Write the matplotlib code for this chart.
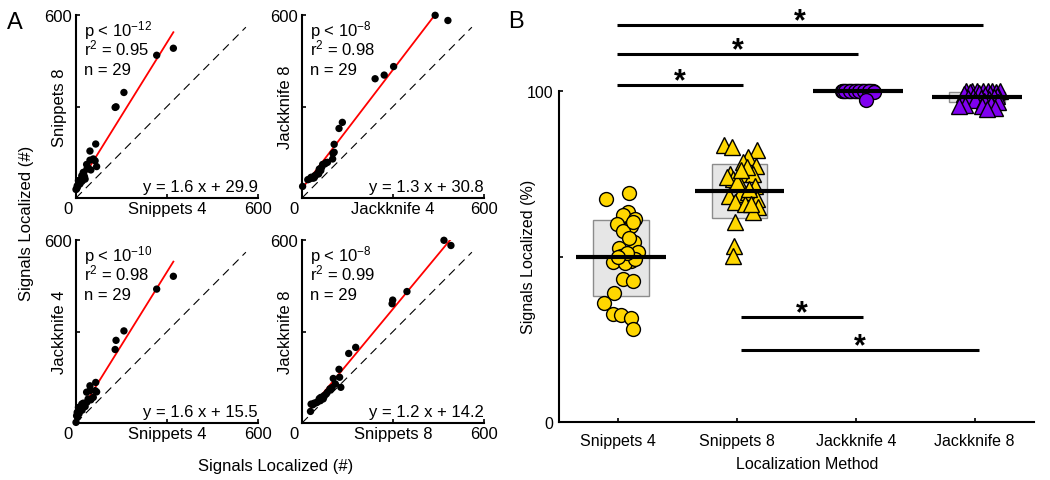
import matplotlib
matplotlib.use('Agg')
import matplotlib.pyplot as plt
import numpy as np

plt.rcParams['font.family'] = ['Liberation Sans', 'DejaVu Sans']
plt.rcParams['mathtext.fontset'] = 'custom'
plt.rcParams['mathtext.rm'] = 'Liberation Sans'
plt.rcParams['mathtext.it'] = 'Liberation Sans:italic'
plt.rcParams['mathtext.bf'] = 'Liberation Sans:bold'
plt.rcParams['lines.scale_dashes'] = False

# ---------------- data: panel A (signals localized, #) ----------------
snippets4 = [321, 266, 158, 132, 129, 65, 46, 63, 46, 68, 35, 40, 49, 24, 19,
             30, 8, 13, 4, 0, 2, 25, 15, 36, 10, 5, 28, 20, 57]
snippets8 = [491, 468, 346, 299, 297, 177, 154, 122, 124, 103, 110, 99, 92, 84, 73,
             62, 57, 46, 40, 28, 30, 80, 60, 95, 50, 36, 70, 55, 128]
jackknife4 = [481, 439, 302, 271, 241, 133, 122, 106, 106, 102, 101, 79, 76, 65, 62,
              54, 51, 40, 35, 2, 24, 57, 44, 68, 30, 19, 55, 42, 84]
jackknife8 = [582, 599, 431, 403, 391, 248, 228, 176, 150, 146, 128, 116, 112, 101, 90,
              84, 80, 66, 65, 38, 62, 95, 73, 110, 68, 60, 79, 73, 117]

scatter_x_names = ['Snippets 4', 'Jackknife 4', 'Snippets 4', 'Snippets 8']
scatter_y_names = ['Snippets 8', 'Jackknife 8', 'Jackknife 4', 'Jackknife 8']
fit_slopes = [1.6, 1.3, 1.6, 1.2]
fit_intercepts = [29.9, 30.8, 15.5, 14.2]
p_exponents = [-12, -8, -10, -8]
r_squared = [0.95, 0.98, 0.98, 0.99]
n_samples = [29, 29, 29, 29]

# ---------------- data: panel B (signals localized, %) ----------------
methods = ['Snippets 4', 'Snippets 8', 'Jackknife 4', 'Jackknife 8']
pct_s4 = [67.5, 69.1, 63.4, 62.4, 61.4, 59.9, 59.2, 57.7, 54.4, 52.7, 51.4, 49.2, 48.3, 48.6, 50.2,
          48.1, 43.3, 42.6, 39.1, 35.9, 32.5, 32.2, 31.5, 28.0, 49.2, 51.0, 49.8, 55.5, 60.5]
jit_s4 = [-0.103, 0.092, 0.082, 0.036, 0.143, -0.011, 0.107, 0.039, 0.134, 0.003, 0.162, 0.101, -0.045,
          0.109, 0.025, 0.059, 0.036, 0.120, -0.039, -0.118, -0.048, 0.025, 0.109, 0.120, 0.143, 0.07,
          0.0, 0.09, 0.12]
pct_s8 = [83.8, 83.0, 82.2, 80.2, 78.5, 77.4, 74.9, 74.9, 74.9, 73.4, 71.9, 71.4, 68.4, 68.9, 69.4,
          67.4, 66.4, 65.9, 64.9, 63.4, 60.3, 53.3, 50.2, 73.9, 76.9, 70.5, 72.5, 66.0, 76.0]
jit_s8 = [-0.107, -0.039, 0.166, 0.095, 0.053, 0.160, -0.059, 0.053, 0.137, -0.031, 0.025, 0.151, -0.065,
          0.025, 0.095, 0.166, -0.017, 0.067, 0.179, 0.137, -0.017, -0.025, -0.036, -0.087, 0.082, 0.10,
          0.0, 0.12, 0.03]
pct_j4 = [100, 100, 100, 100, 100, 100, 100, 100, 100, 100, 100, 100, 100, 100, 100,
          100, 100, 100, 100, 100, 100, 100, 100, 100, 100, 100, 100, 99.6, 97.3]
jit_j4 = [-0.12, -0.10, -0.08, -0.06, -0.04, -0.02, 0.0, 0.02, 0.04, 0.06, 0.08, 0.10, 0.12, 0.14,
          -0.11, -0.07, -0.03, 0.01, 0.05, 0.09, 0.13, -0.09, -0.05, -0.01, 0.03, 0.07, 0.11, 0.15, 0.084]
pct_j8 = [100, 100, 100, 100, 100, 100, 100, 99.6, 99.6, 99.5, 99.2, 99.0, 98.8, 98.5, 98.2,
          98.2, 98.0, 97.8, 97.5, 97.2, 97.0, 96.8, 96.5, 96.0, 95.8, 95.6, 95.5, 95.0, 94.6]
jit_j8 = [-0.07, -0.02, 0.07, 0.15, 0.21, 0.02, 0.11, -0.04, 0.18, 0.04, 0.13, -0.09, 0.09, 0.19, -0.01,
          0.16, 0.05, -0.06, 0.12, 0.0, 0.08, 0.20, -0.11, 0.14, -0.08, 0.06, -0.13, 0.17, 0.10]
box_q1 = [38.1, 61.6, 100.0, 96.7]
box_q3 = [61.0, 78.0, 100.0, 99.7]
medians = [49.8, 69.8, 100.0, 98.2]
sig_x0 = [0.99, 0.99, 0.99, 2.03, 2.03]
sig_x1 = [4.07, 3.02, 2.05, 3.06, 4.04]
sig_y = [120.0, 111.2, 101.8, 31.7, 21.8]

W, H = 1050, 481
fig = plt.figure(figsize=(W / 100, H / 100), dpi=100)


def px_axes(x0, y0, x1, y1):
    return fig.add_axes([x0 / W, 1 - y1 / H, (x1 - x0) / W, (y1 - y0) / H])


gold = '#FFD700'
purple = '#8000F0'
FS = 12

panel_boxes = [(76, 16, 258, 199), (302, 16, 484, 199), (76, 241, 258, 424), (302, 241, 484, 424)]
panel_data = [(snippets4, snippets8), (jackknife4, jackknife8), (snippets4, jackknife4), (snippets8, jackknife8)]

for i, box in enumerate(panel_boxes):
    ax = px_axes(*box)
    xd, yd = panel_data[i]
    ax.set_xlim(0, 600)
    ax.set_ylim(0, 600)
    for s in ['top', 'right']:
        ax.spines[s].set_visible(False)
    for s in ['left', 'bottom']:
        ax.spines[s].set_linewidth(1.5)
    ax.set_xticks([0, 300, 600])
    ax.set_yticks([0, 300, 600])
    ax.set_xticklabels(['0', '', '600'], fontsize=FS)
    ax.set_yticklabels(['', '', '600'], fontsize=FS)
    ax.tick_params(direction='in', length=3, width=1.2, pad=2)
    ax.tick_params(axis='y', pad=3)
    lab0 = ax.get_xticklabels()[0]
    lab0.set_transform(lab0.get_transform() + matplotlib.transforms.ScaledTranslation(-8 / 100, 0, fig.dpi_scale_trans))

    ax.plot([0, 560], [0, 560], color='k', lw=0.8, ls=(0, (6, 4)), zorder=1)
    xs = np.array([min(xd), max(xd)], dtype=float)
    ax.plot(xs, fit_slopes[i] * xs + fit_intercepts[i], color='#FF0000', lw=1.3, zorder=2)
    ax.scatter(xd, yd, s=28, color='k', edgecolors='none', zorder=3, clip_on=False)

    ax.annotate(r'p < 10$^{%d}$' % p_exponents[i], xy=(0, 1), xycoords='axes fraction',
                xytext=(6, -15), textcoords='offset points', ha='left', va='baseline', fontsize=FS)
    ax.annotate(r'r$^{2}$ = %.2f' % r_squared[i], xy=(0, 1), xycoords='axes fraction',
                xytext=(6, -28.5), textcoords='offset points', ha='left', va='baseline', fontsize=FS)
    ax.annotate('n = %d' % n_samples[i], xy=(0, 1), xycoords='axes fraction',
                xytext=(6, -42.5), textcoords='offset points', ha='left', va='baseline', fontsize=FS)
    ax.annotate('y = %.1f x + %.1f' % (fit_slopes[i], fit_intercepts[i]), xy=(1, 0), xycoords='axes fraction',
                xytext=(0, 5.3), textcoords='offset points', ha='right', va='baseline', fontsize=FS)
    ax.annotate(scatter_x_names[i], xy=(0.5, 0), xycoords='axes fraction',
                xytext=(0, -2), textcoords='offset points', ha='center', va='top', fontsize=FS)
    ax.annotate(scatter_y_names[i], xy=(0, 0.5), xycoords='axes fraction',
                xytext=(-12, 0), textcoords='offset points', ha='center', va='center',
                rotation=90, fontsize=FS)

fig.text(26 / W, 1 - 223 / H, 'Signals Localized (#)', rotation=90, ha='center', va='center', fontsize=FS)
fig.text(276 / W, 1 - 466 / H, 'Signals Localized (#)', ha='center', va='center', fontsize=FS)
fig.text(15 / W, 1 - 23 / H, 'A', ha='center', va='center', fontsize=17)
fig.text(516 / W, 1 - 22 / H, 'B', ha='center', va='center', fontsize=17)

# ---------------- panel B ----------------
axb = px_axes(559, 92, 1034, 423)
axb.set_xlim(0.5, 4.5)
axb.set_ylim(0, 100)
for s in ['top', 'right']:
    axb.spines[s].set_visible(False)
for s in ['left', 'bottom']:
    axb.spines[s].set_linewidth(1.5)
xpos = np.arange(1, 5)
axb.set_xticks(xpos)
axb.set_xticklabels(methods, fontsize=11.5)
axb.set_yticks([0, 50, 100])
axb.set_yticklabels(['0', '', '100'], fontsize=11.5)
axb.tick_params(direction='in', length=3, width=1.2, pad=4)
axb.tick_params(axis='x', pad=8)
fig.text(807 / W, 1 - 465 / H, 'Localization Method', ha='center', va='center', fontsize=11.5)
fig.text(529 / W, 1 - 257 / H, 'Signals Localized (%)', rotation=90, ha='center', va='center', fontsize=11.5)

q1 = np.array(box_q1)
q3 = np.array(box_q3)
axb.bar(xpos + 0.02, q3 - q1, bottom=q1, width=0.47, color='#E6E6E6', edgecolor='#8C8C8C',
        linewidth=1.0, zorder=1, clip_on=False)

groups = [(pct_s4, jit_s4, 'o', gold, 10), (pct_s8, jit_s8, '^', gold, 11),
          (pct_j4, jit_j4, 'o', purple, 10), (pct_j8, jit_j8, '^', purple, 11)]
for k, (vals, jit, mk, col, ms) in enumerate(groups):
    axb.plot(xpos[k] + np.array(jit), vals, ls='none', marker=mk, markersize=ms,
             markerfacecolor=col, markeredgecolor='k', markeredgewidth=1.0, zorder=2, clip_on=False)

axb.hlines(medians, xpos + 0.02 - 0.378, xpos + 0.02 + 0.378, color='k', lw=3, zorder=3, clip_on=False)

for x0, x1, y in zip(sig_x0, sig_x1, sig_y):
    axb.plot([x0, x1], [y, y], color='k', lw=2.2, clip_on=False, solid_capstyle='butt')
    axb.annotate('*', xy=((x0 + x1) / 2, y), xycoords='data', xytext=(0, -8),
                 textcoords='offset points', ha='center', va='bottom', fontsize=22,
                 fontweight='bold', annotation_clip=False)

fig.savefig('out.png', dpi=100)
